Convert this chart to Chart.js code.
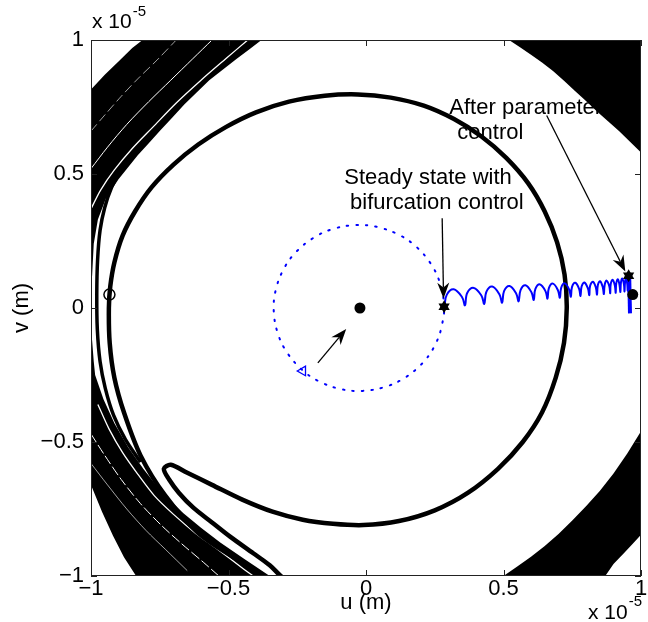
<!DOCTYPE html>
<html>
<head>
<meta charset="utf-8">
<style>
  body { margin: 0; background: #fff; }
</style>
<script src="https://cdn.jsdelivr.net/npm/chart.js"></script>
<script>
    // all values in units of 1e-5 m (the "x 10^-5" factor is drawn as text)
    var xTicks = [-1, -0.5, 0, 0.5, 1];
    var xTickLabels = ['\u22121', '\u22120.5', '0', '0.5', '1'];
    var yTicks = [-1, -0.5, 0, 0.5, 1];
    var yTickLabels = ['\u22121', '\u22120.5', '0', '0.5', '1'];

    // chaotic band: outer edge (clockwise) then inner edge (anticlockwise)
    var bandOuter = [
        [-1.0, 0.815], [-0.95, 0.87], [-0.9, 0.92], [-0.85, 0.97], [-0.80, 1.01], [-0.6, 1.3], [0.0, 1.5],
        [0.8, 1.5], [1.5, 1.2], [1.5, 0.0], [1.2, -0.55], [1.0, -0.846], [0.97, -0.88], [0.935, -0.918],
        [0.90, -0.955], [0.87, -1.0], [0.6, -1.3], [0.0, -1.5], [-0.6, -1.3], [-0.836, -1.0],
        [-0.88, -0.93], [-0.92, -0.85], [-0.96, -0.76], [-1.0, -0.66], [-1.3, -0.3], [-1.4, 0.3],
        [-1.2, 0.65], [-1.0, 0.815]
    ];
    var bandInner = [
        [-0.38, 1.0], [-0.425, 0.965], [-0.47, 0.93], [-0.52, 0.89], [-0.57, 0.85], [-0.615, 0.805],
        [-0.66, 0.76], [-0.705, 0.71], [-0.75, 0.66], [-0.79, 0.615], [-0.83, 0.57], [-0.865, 0.525],
        [-0.90, 0.48], [-0.945, 0.41], [-0.975, 0.33], [-0.99, 0.24], [-0.996, 0.12], [-1.03, 0.0],
        [-0.996, -0.12], [-0.99, -0.2], [-0.985, -0.25], [-0.955, -0.34], [-0.915, -0.43],
        [-0.865, -0.52], [-0.81, -0.60], [-0.76, -0.665], [-0.72, -0.71], [-0.665, -0.765],
        [-0.60, -0.82], [-0.53, -0.875], [-0.445, -0.935], [-0.35, -1.0], [-0.2, -1.07],
        [0.1, -1.15], [0.4, -1.05], [0.5, -1.0], [0.55, -0.965], [0.60, -0.928], [0.65, -0.888],
        [0.70, -0.843], [0.75, -0.793], [0.80, -0.74], [0.85, -0.683], [0.90, -0.618], [0.95, -0.543],
        [1.0, -0.46], [1.1, 0.0], [1.0, 0.58], [0.96, 0.62], [0.92, 0.66], [0.88, 0.697], [0.84, 0.733],
        [0.80, 0.772], [0.76, 0.81], [0.72, 0.848], [0.68, 0.884], [0.64, 0.916], [0.60, 0.945],
        [0.56, 0.973], [0.52, 1.0], [0.3, 1.12], [0.0, 1.15], [-0.3, 1.06], [-0.38, 1.0]
    ];

    // thin white gaps between strands inside the band
    var gap1 = [[-1.0, 0.37], [-0.965, 0.44], [-0.915, 0.515], [-0.85, 0.595], [-0.775, 0.675], [-0.69, 0.765], [-0.60, 0.85], [-0.51, 0.93], [-0.43, 1.0]];
    var gap2 = [[-1.0, 0.52], [-0.94, 0.60], [-0.87, 0.685], [-0.79, 0.77], [-0.71, 0.85], [-0.63, 0.93], [-0.56, 1.0]];
    var gap3 = [[-1.0, 0.66], [-0.95, 0.72], [-0.89, 0.79], [-0.83, 0.855], [-0.76, 0.925], [-0.69, 1.0]];
    var gap4 = [[-0.975, -0.36], [-0.935, -0.45], [-0.885, -0.54], [-0.83, -0.62], [-0.77, -0.70], [-0.70, -0.77], [-0.62, -0.84], [-0.54, -0.90], [-0.45, -0.97], [-0.41, -1.0]];
    var gap5 = [[-1.0, -0.47], [-0.95, -0.55], [-0.89, -0.64], [-0.82, -0.73], [-0.745, -0.81], [-0.67, -0.88], [-0.59, -0.95], [-0.535, -1.0]];
    var gap6 = [[-1.0, -0.58], [-0.94, -0.66], [-0.87, -0.75], [-0.80, -0.83], [-0.73, -0.90], [-0.65, -0.98]];

    // strand running down the left side
    var strand = [
        [-0.89, 0.52], [-0.925, 0.45], [-0.95, 0.375], [-0.967, 0.29], [-0.976, 0.18], [-0.979, 0.05],
        [-0.977, -0.08], [-0.967, -0.2], [-0.948, -0.3], [-0.918, -0.40], [-0.875, -0.49], [-0.82, -0.575]
    ];

    // uncontrolled orbit with the fold (tongue)
    var orbit = [
        [-0.34, -1.04], [-0.40, -0.98], [-0.49, -0.925], [-0.61, -0.84], [-0.73, -0.70], [-0.82, -0.55],
        [-0.88, -0.39], [-0.915, -0.26], [-0.932, -0.13], [-0.935, 0.0], [-0.93, 0.08], [-0.915, 0.17],
        [-0.885, 0.27], [-0.84, 0.36], [-0.78, 0.45], [-0.70, 0.535], [-0.61, 0.61], [-0.51, 0.675],
        [-0.40, 0.73], [-0.28, 0.77], [-0.15, 0.792], [-0.03, 0.797], [0.09, 0.785], [0.21, 0.755],
        [0.32, 0.705], [0.42, 0.64], [0.51, 0.56], [0.59, 0.465], [0.65, 0.36], [0.695, 0.245],
        [0.722, 0.125], [0.73, 0.0], [0.72, -0.13], [0.69, -0.26], [0.64, -0.39], [0.57, -0.50],
        [0.48, -0.60], [0.37, -0.69], [0.25, -0.755], [0.12, -0.795], [-0.01, -0.81], [-0.12, -0.805],
        [-0.23, -0.79], [-0.34, -0.76], [-0.45, -0.715], [-0.56, -0.66], [-0.65, -0.615], [-0.71, -0.585],
        [-0.735, -0.60], [-0.716, -0.64], [-0.68, -0.69], [-0.627, -0.746], [-0.56, -0.80],
        [-0.493, -0.854], [-0.41, -0.915], [-0.35, -0.96], [-0.31, -1.0], [-0.26, -1.04]
    ];

    // bifurcation-controlled orbit (dotted)
    var dottedOrbit = [
        [0.284, 0.0], [0.279, 0.054], [0.255, 0.131], [0.211, 0.199], [0.152, 0.254], [0.080, 0.291],
        [0.001, 0.309], [-0.080, 0.305], [-0.157, 0.281], [-0.225, 0.237], [-0.280, 0.178],
        [-0.317, 0.106], [-0.335, 0.027], [-0.331, -0.054], [-0.307, -0.131], [-0.263, -0.199],
        [-0.204, -0.254], [-0.132, -0.291], [-0.053, -0.309], [0.028, -0.305], [0.105, -0.281],
        [0.173, -0.237], [0.228, -0.178], [0.265, -0.106], [0.283, -0.027], [0.284, 0.0]
    ];

    // transient after parameter control
    var spiral = [
        [0.285, 0.005], [0.294, 0.05], [0.319, 0.07], [0.349, 0.041], [0.36, 0.01],
        [0.368, 0.056], [0.392, 0.075], [0.42, 0.046], [0.43, 0.015],
        [0.438, 0.061], [0.459, 0.08], [0.485, 0.051], [0.495, 0.02],
        [0.502, 0.063], [0.522, 0.082], [0.546, 0.054], [0.555, 0.025],
        [0.562, 0.067], [0.58, 0.085], [0.602, 0.058], [0.61, 0.03],
        [0.616, 0.071], [0.633, 0.088], [0.653, 0.062], [0.66, 0.035],
        [0.665, 0.074], [0.68, 0.091], [0.698, 0.066], [0.705, 0.038],
        [0.71, 0.076], [0.723, 0.092], [0.739, 0.068], [0.745, 0.042],
        [0.749, 0.078], [0.761, 0.094], [0.775, 0.071], [0.78, 0.045],
        [0.784, 0.08], [0.794, 0.095], [0.807, 0.073], [0.812, 0.048],
        [0.815, 0.083], [0.825, 0.098], [0.836, 0.076], [0.84, 0.05],
        [0.843, 0.085], [0.851, 0.1], [0.861, 0.078], [0.865, 0.052],
        [0.868, 0.087], [0.875, 0.102], [0.885, 0.08], [0.888, 0.055],
        [0.89, 0.09], [0.897, 0.105], [0.905, 0.083], [0.908, 0.057],
        [0.91, 0.092], [0.916, 0.107], [0.922, 0.085], [0.925, 0.06],
        [0.927, 0.095], [0.932, 0.11], [0.938, 0.088], [0.94, 0.062],
        [0.942, 0.097], [0.946, 0.112], [0.95, 0.09], [0.952, 0.065], [0.955, 0.12]
    ];
    var spiralDrop = [[0.957, 0.12], [0.96, -0.02]];

    var startMark = [[-0.933, 0.05]];
    var centreDot = [[-0.022, 0.0]];
    var stars = [[0.284, 0.005], [0.955, 0.12]];
    var endDot = [[0.97, 0.05]];
    var dottedStart = [[-0.23, -0.235]];

    // annotation arrows: [tail u, tail v, head u, head v]
    var arrows = [
        [-0.175, -0.205, -0.072, -0.078],
        [0.277, 0.335, 0.282, 0.035],
        [0.657, 0.718, 0.943, 0.136]
    ];
    var notes = [
        ['After parameter', 0.303, 0.724],
        ['control', 0.332, 0.631],
        ['Steady state with', -0.079, 0.463],
        ['bifurcation control', -0.058, 0.369]
    ];

    var FONT = "'Liberation Sans', Arial, Helvetica, sans-serif";

    function pts(list) {
        return list.map(function (p) { return {x: p[0], y: p[1]}; });
    }

    function lineSet(list, color, width, order, extra) {
        var ds = {
            data: pts(list), showLine: true, borderColor: color, borderWidth: width,
            pointRadius: 0, fill: false, tension: 0.3, order: order, clip: 0
        };
        for (var k in extra) ds[k] = extra[k];
        return ds;
    }

    function drawArrow(ctx, x1, y1, x2, y2) {
        var a = Math.atan2(y2 - y1, x2 - x1);
        var c = Math.cos(a), s = Math.sin(a);
        var len = 16, half = 6, back = 11;
        ctx.beginPath();
        ctx.moveTo(x1, y1);
        ctx.lineTo(x2 - back * c, y2 - back * s);
        ctx.stroke();
        ctx.beginPath();
        ctx.moveTo(x2, y2);
        ctx.lineTo(x2 - len * c + half * s, y2 - len * s - half * c);
        ctx.lineTo(x2 - back * c, y2 - back * s);
        ctx.lineTo(x2 - len * c - half * s, y2 - len * s + half * c);
        ctx.closePath();
        ctx.fill();
    }

    var decorations = {
        id: 'decorations',
        beforeDatasetsDraw: function (chart) {
            var ctx = chart.ctx, xs = chart.scales.x, ys = chart.scales.y;
            ctx.save();
            ctx.fillStyle = '#000';
            ctx.font = '22px ' + FONT;
            ctx.textAlign = 'left';
            ctx.textBaseline = 'alphabetic';
            notes.forEach(function (n) {
                ctx.fillText(n[0], xs.getPixelForValue(n[1]), ys.getPixelForValue(n[2]));
            });
            ctx.restore();
        },
        afterDatasetsDraw: function (chart) {
            var ctx = chart.ctx, xs = chart.scales.x, ys = chart.scales.y;
            var area = chart.chartArea;
            ctx.save();
            ctx.strokeStyle = '#000';
            ctx.fillStyle = '#000';
            ctx.lineWidth = 1.3;
            arrows.forEach(function (a) {
                drawArrow(ctx, xs.getPixelForValue(a[0]), ys.getPixelForValue(a[1]),
                    xs.getPixelForValue(a[2]), ys.getPixelForValue(a[3]));
            });

            // box and inward ticks
            ctx.lineWidth = 1;
            ctx.strokeStyle = '#222';
            ctx.strokeRect(area.left + 0.5, area.top + 0.5, area.right - area.left - 1, area.bottom - area.top - 1);
            ctx.beginPath();
            xTicks.forEach(function (v) {
                var px = Math.round(xs.getPixelForValue(v)) + 0.5;
                ctx.moveTo(px, area.bottom); ctx.lineTo(px, area.bottom - 6);
                ctx.moveTo(px, area.top); ctx.lineTo(px, area.top + 6);
            });
            yTicks.forEach(function (v) {
                var py = Math.round(ys.getPixelForValue(v)) + 0.5;
                ctx.moveTo(area.left, py); ctx.lineTo(area.left + 6, py);
                ctx.moveTo(area.right, py); ctx.lineTo(area.right - 6, py);
            });
            ctx.stroke();

            // axis titles and exponent labels
            ctx.fillStyle = '#000';
            ctx.font = '22px ' + FONT;
            ctx.textAlign = 'center';
            ctx.textBaseline = 'middle';
            ctx.fillText('u (m)', (area.left + area.right) / 2, 603);
            ctx.save();
            ctx.translate(22, (area.top + area.bottom) / 2);
            ctx.rotate(-Math.PI / 2);
            ctx.fillText('v (m)', 0, 0);
            ctx.restore();

            ctx.textAlign = 'left';
            ctx.textBaseline = 'alphabetic';
            ctx.font = '21px ' + FONT;
            var w = ctx.measureText('x 10').width;
            ctx.fillText('x 10', 92, 28);
            ctx.fillText('x 10', 588, 619);
            ctx.font = '15px ' + FONT;
            ctx.fillText('-5', 92 + w + 1, 16);
            ctx.fillText('-5', 588 + w + 1, 606);
            ctx.restore();
        }
    };

    function load() {
        Chart.defaults.font.family = FONT;
        Chart.defaults.font.size = 22;
        Chart.defaults.color = '#000';

        var bandPath = bandOuter.concat(bandInner).concat([bandOuter[0]]);

        var datasets = [
            lineSet(bandPath, '#000', 0, 20, {fill: 'shape', backgroundColor: '#000', tension: 0}),
            lineSet(gap1, '#fff', 1.3, 19),
            lineSet(gap2, '#fff', 1, 19),
            lineSet(gap3, 'rgba(255,255,255,0.8)', 0.8, 19, {borderDash: [9, 4]}),
            lineSet(gap4, '#fff', 1.3, 19),
            lineSet(gap5, '#fff', 1, 19, {borderDash: [10, 3]}),
            lineSet(gap6, 'rgba(255,255,255,0.8)', 0.8, 19),
            lineSet(strand, '#000', 3.5, 18),
            lineSet(orbit, '#000', 4.5, 17),
            lineSet(dottedOrbit, 'rgb(0,0,255)', 2, 16, {borderDash: [1.5, 8], borderCapStyle: 'round'}),
            lineSet(spiral, 'rgb(0,0,255)', 2, 15, {tension: 0.4}),
            lineSet(spiralDrop, 'rgb(0,0,255)', 4, 14, {tension: 0}),
            {data: pts(dottedStart), pointStyle: 'triangle', rotation: -90, pointRadius: 5.5,
                borderColor: 'rgb(0,0,255)', backgroundColor: 'rgba(0,0,0,0)', borderWidth: 1.3, order: 6},
            {data: pts(startMark), pointStyle: 'circle', pointRadius: 5.5,
                borderColor: '#000', backgroundColor: 'rgba(0,0,0,0)', borderWidth: 1.5, order: 5},
            {data: pts(centreDot), pointStyle: 'circle', pointRadius: 5.5,
                borderColor: '#000', backgroundColor: '#000', borderWidth: 0, order: 4},
            {data: pts(endDot), pointStyle: 'circle', pointRadius: 5.5,
                borderColor: '#000', backgroundColor: '#000', borderWidth: 0, order: 3},
            {data: pts(stars), pointStyle: 'triangle', rotation: 0, pointRadius: 6.5,
                borderColor: '#000', backgroundColor: '#000', borderWidth: 0, order: 2},
            {data: pts(stars), pointStyle: 'triangle', rotation: 180, pointRadius: 6.5,
                borderColor: '#000', backgroundColor: '#000', borderWidth: 0, order: 1}
        ];

        var ctx = document.getElementById('myChart').getContext('2d');
        new Chart(ctx, {
            type: 'scatter',
            data: {datasets: datasets},
            options: {
                responsive: false,
                animation: false,
                layout: {padding: {left: 0, right: 3, top: 40, bottom: 0}},
                plugins: {legend: {display: false}, tooltip: {enabled: false}},
                scales: {
                    x: {
                        type: 'linear', min: -1, max: 1,
                        afterBuildTicks: function (s) { s.ticks = xTicks.map(function (v) { return {value: v}; }); },
                        afterFit: function (s) { s.height = 46; },
                        ticks: {
                            padding: 0, maxRotation: 0, autoSkip: false,
                            callback: function (v) { return xTickLabels[xTicks.indexOf(v)]; }
                        },
                        grid: {display: false, drawTicks: false},
                        border: {display: false}
                    },
                    y: {
                        type: 'linear', min: -1, max: 1,
                        afterBuildTicks: function (s) { s.ticks = yTicks.map(function (v) { return {value: v}; }); },
                        afterFit: function (s) { s.width = 91; },
                        ticks: {
                            padding: 7, autoSkip: false,
                            callback: function (v) { return yTickLabels[yTicks.indexOf(v)]; }
                        },
                        grid: {display: false, drawTicks: false},
                        border: {display: false}
                    }
                }
            },
            plugins: [decorations]
        });
    }
</script>
</head>
<body>
<canvas id="myChart" width="648" height="622"></canvas>
<script>load();</script>
</body>
</html>
